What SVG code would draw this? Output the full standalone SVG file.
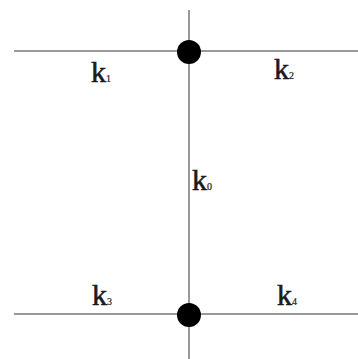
<svg xmlns="http://www.w3.org/2000/svg" width="358" height="359" viewBox="0 0 358 359">
<style>
.edge{stroke:#999;stroke-width:2;fill:none}
.dot{fill:#000}
.lbl{font-family:"Liberation Serif","Times New Roman",serif;font-size:30px;fill:#1a1a1a;stroke:#1a1a1a;stroke-width:0.6}
.sub{font-size:10px;stroke-width:0.2}
</style>
<rect width="358" height="359" fill="#fff"/>
<g id="connectors">
<line class="edge" x1="14" y1="51" x2="358" y2="51"/>
<line class="edge" x1="14" y1="314" x2="358" y2="314"/>
<line class="edge" x1="189" y1="10" x2="189" y2="359"/>
</g>
<g id="node-top"><circle class="dot" cx="189" cy="52" r="12"/></g>
<g id="node-bottom"><circle class="dot" cx="189" cy="315" r="12"/></g>
<g id="labels">
<text class="lbl" x="91" y="82">k<tspan class="sub">1</tspan></text>
<text class="lbl" x="274" y="79">k<tspan class="sub">2</tspan></text>
<text class="lbl" x="92" y="305">k<tspan class="sub">3</tspan></text>
<text class="lbl" x="277" y="305">k<tspan class="sub">4</tspan></text>
<text class="lbl" x="192" y="190">k<tspan class="sub">0</tspan></text>
</g>
</svg>
